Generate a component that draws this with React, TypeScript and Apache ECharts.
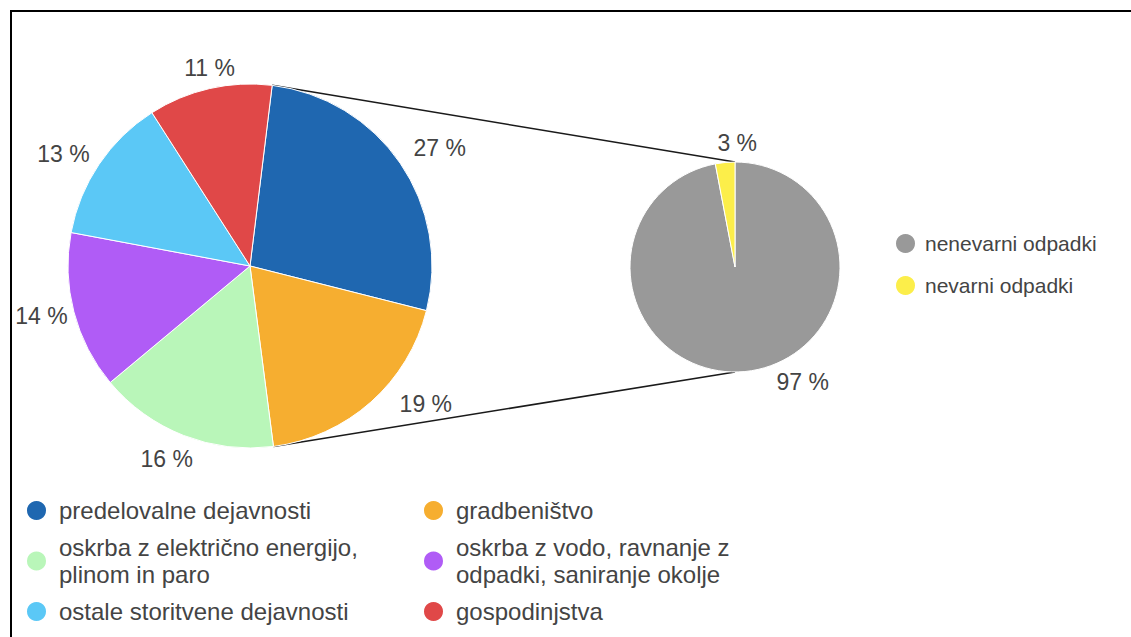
import React, { useEffect, useRef } from 'react';
import * as echarts from 'echarts';

// ---- data ----
const sectorNames = [
  'predelovalne dejavnosti',
  'gradbeništvo',
  'oskrba z električno energijo, plinom in paro',
  'oskrba z vodo, ravnanje z odpadki, saniranje okolje',
  'ostale storitvene dejavnosti',
  'gospodinjstva',
];
const sectorShares = [27, 19, 16, 14, 13, 11];
const wasteNames = ['nenevarni odpadki', 'nevarni odpadki'];
const wasteShares = [97, 3];

// ---- style ----
const sectorColors = ['#1f67b0', '#f6ae30', '#b9f6b9', '#b05cf6', '#5bc8f6', '#e04848'];
const wasteColors = ['#999999', '#fcee4a'];
const legendText: Record<string, string> = {
  'oskrba z električno energijo, plinom in paro': 'oskrba z električno energijo,\nplinom in paro',
  'oskrba z vodo, ravnanje z odpadki, saniranje okolje': 'oskrba z vodo, ravnanje z\nodpadki, saniranje okolje',
};
const FONT = '"Liberation Sans", Arial, sans-serif';
const TEXT = '#444444';
const LEFT = { cx: 250, cy: 266, r: 182, start: 83 };
const RIGHT = { cx: 735, cy: 267, r: 105, start: 90 };
const labelNudges = [
  [[10, 5], [33, -23], [-7, -2], [3, -5], [-6, 10], [5, 2]],
  [[56, -10], [14, 0]],
];

function pointAt(g: { cx: number; cy: number; r: number }, deg: number) {
  const a = (deg * Math.PI) / 180;
  return [g.cx + g.r * Math.cos(a), g.cy - g.r * Math.sin(a)];
}

function sliceAngle(values: number[], start: number, idx: number, frac: number) {
  const total = values.reduce((s, v) => s + v, 0);
  let cum = 0;
  for (let i = 0; i < idx; i++) cum += values[i];
  return start - ((cum + values[idx] * frac) / total) * 360;
}

export default function App() {
  const ref = useRef<HTMLDivElement>(null);
  useEffect(() => {
    if (!ref.current) return;
    const chart = echarts.init(ref.current, null, { renderer: 'svg' });
    const geoms = [LEFT, RIGHT];
    const vals = [sectorShares, wasteShares];
    const fontSize = 23;

    const labelLayout = (p: any) => {
      const s = p.seriesIndex;
      const g = geoms[s];
      const a = (sliceAngle(vals[s], g.start, p.dataIndex, 0.5) * Math.PI) / 180;
      const ux = Math.cos(a);
      const uy = -Math.sin(a);
      const w = p.labelRect.width;
      const hv = fontSize * 0.78;
      const d = g.r + 9 + Math.abs(ux) * w / 2 + Math.abs(uy) * hv / 2;
      const n = labelNudges[s][p.dataIndex] || [0, 0];
      return {
        x: g.cx + d * ux + n[0],
        y: g.cy + d * uy + n[1],
        align: 'center',
        verticalAlign: 'middle',
      };
    };

    const p0 = pointAt(LEFT, sliceAngle(sectorShares, LEFT.start, 0, 0));
    const p1 = pointAt(LEFT, sliceAngle(sectorShares, LEFT.start, 1, 1));
    const q0 = pointAt(RIGHT, 90);
    const q1 = pointAt(RIGHT, -90);

    const label = {
      show: true,
      position: 'outside',
      color: TEXT,
      fontSize,
      fontFamily: FONT,
      formatter: (p: any) => Math.round(p.value) + ' %',
    };
    const legendBase = (size: number, pad: number) => ({
      orient: 'vertical',
      icon: 'circle',
      itemWidth: 21,
      itemHeight: 21,
      padding: 0,
      selectedMode: false,
      textStyle: {
        color: TEXT,
        fontSize: size,
        fontFamily: FONT,
        lineHeight: 27,
        padding: [0, 0, 0, pad],
      },
      formatter: (name: string) => legendText[name] || name,
    });

    chart.setOption({
      animation: false,
      backgroundColor: '#ffffff',
      legend: [
        { ...legendBase(24, 7), left: 25, top: 497, itemGap: 10, data: [sectorNames[0], sectorNames[2], sectorNames[4]] },
        { ...legendBase(24, 7), left: 422, top: 497, itemGap: 10, data: [sectorNames[1], sectorNames[3], sectorNames[5]] },
        { ...legendBase(21, 4), left: 894, top: 230, itemGap: 15, data: wasteNames },
      ],
      graphic: [
        {
          type: 'rect',
          silent: true,
          shape: { x: 11, y: 11, width: 1300, height: 800 },
          style: { fill: 'none', stroke: '#000', lineWidth: 2 },
        },
        {
          type: 'line',
          silent: true,
          shape: { x1: p0[0], y1: p0[1], x2: q0[0], y2: q0[1] },
          style: { stroke: '#1a1a1a', lineWidth: 1.5 },
        },
        {
          type: 'line',
          silent: true,
          shape: { x1: p1[0], y1: p1[1], x2: q1[0], y2: q1[1] },
          style: { stroke: '#1a1a1a', lineWidth: 1.5 },
        },
      ],
      series: [
        {
          type: 'pie',
          center: [LEFT.cx, LEFT.cy],
          radius: LEFT.r,
          startAngle: LEFT.start,
          clockwise: true,
          avoidLabelOverlap: false,
          emphasis: { disabled: true },
          itemStyle: { borderColor: '#fff', borderWidth: 1 },
          label,
          labelLine: { show: false },
          labelLayout,
          data: sectorNames.map((n, i) => ({ name: n, value: sectorShares[i], itemStyle: { color: sectorColors[i] } })),
        },
        {
          type: 'pie',
          center: [RIGHT.cx, RIGHT.cy],
          radius: RIGHT.r,
          startAngle: RIGHT.start,
          clockwise: true,
          avoidLabelOverlap: false,
          emphasis: { disabled: true },
          itemStyle: { borderColor: '#fff', borderWidth: 1 },
          label,
          labelLine: { show: false },
          labelLayout,
          data: wasteNames.map((n, i) => ({ name: n, value: wasteShares[i], itemStyle: { color: wasteColors[i] } })),
        },
      ],
    });
    return () => chart.dispose();
  }, []);
  return (
    <div
      ref={ref}
      style={{ position: 'fixed', left: 0, top: 0, width: 1131, height: 637, background: '#fff' }}
    />
  );
}
